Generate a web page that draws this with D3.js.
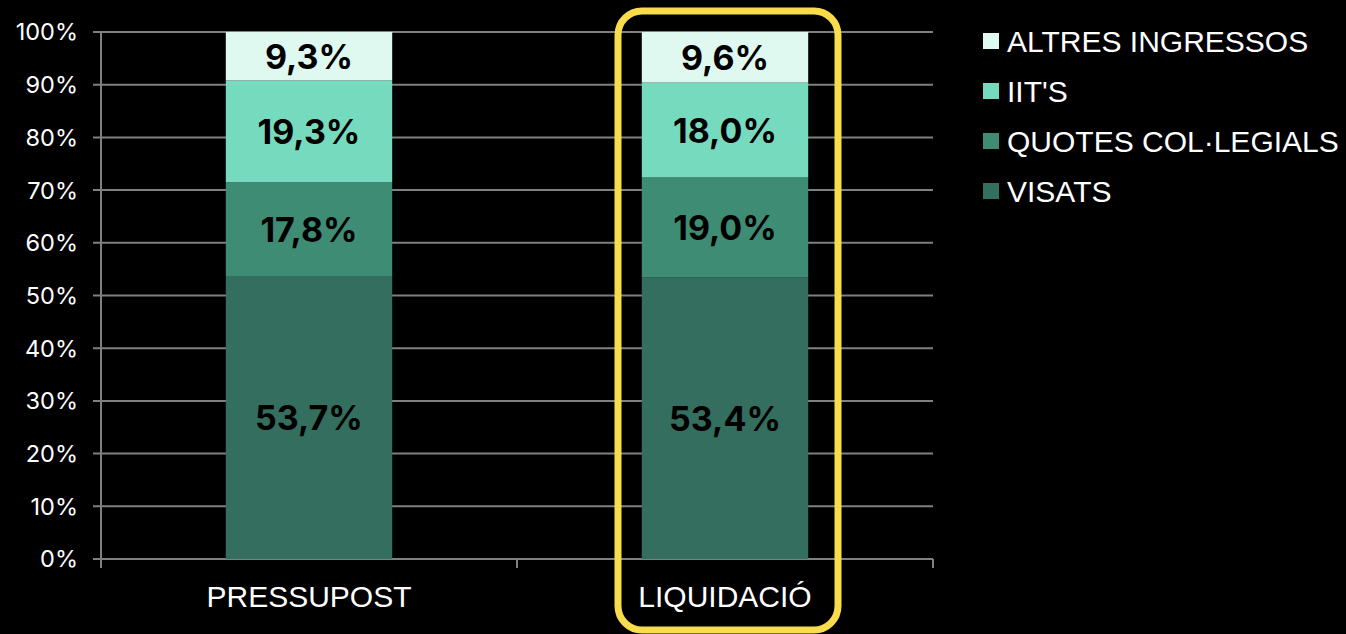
<!DOCTYPE html>
<html><head><meta charset="utf-8">
<script src="https://cdn.jsdelivr.net/npm/d3@7"></script>
<style>html,body{margin:0;padding:0;background:#000;overflow:hidden}</style>
</head><body>
<svg id="c" width="1346" height="634"></svg>
<script>
const categories = ["PRESSUPOST", "LIQUIDACIÓ"];
const seriesNames = ["VISATS", "QUOTES COL·LEGIALS", "IIT'S", "ALTRES INGRESSOS"];
const visats = [53.7, 53.4];
const quotes = [17.8, 19.0];
const iits = [19.3, 18.0];
const altres = [9.3, 9.6];
const yTicks = [0,10,20,30,40,50,60,70,80,90,100];
const colors = ["#336e5e", "#3f8c74", "#76dbbe", "#dff8f0"];
const seriesValues = [visats, quotes, iits, altres];

const svg = d3.select("#c");
const margin = {left:101, right:413, top:32, bottom:75};
const W = 1346, H = 634;
const x = d3.scaleBand().domain(categories).range([margin.left, W - margin.right]).paddingInner(0.6).paddingOuter(0.3);
const y = d3.scaleLinear().domain([0,100]).range([H - margin.bottom, margin.top]);

// gridlines
svg.append("g").selectAll("line").data(yTicks).join("line")
  .attr("x1", 93).attr("x2", W - margin.right)
  .attr("y1", d => y(d)).attr("y2", d => y(d))
  .attr("stroke", "#808080").attr("stroke-width", 2);

// y axis line
svg.append("line").attr("x1", margin.left).attr("x2", margin.left)
  .attr("y1", y(100)).attr("y2", y(0) + 9).attr("stroke", "#808080").attr("stroke-width", 2);
// x axis ticks
const xEdges = [margin.left, margin.left + (W - margin.right - margin.left)/2, W - margin.right];
svg.append("g").selectAll("line").data(xEdges).join("line")
  .attr("x1", d => d).attr("x2", d => d).attr("y1", y(0)).attr("y2", y(0) + 9)
  .attr("stroke", "#808080").attr("stroke-width", 2);

// y tick labels
svg.append("g").selectAll("text").data(yTicks).join("text")
  .attr("x", 78).attr("y", d => y(d)).attr("dy", "0.36em")
  .attr("text-anchor", "end").attr("fill", "#fff")
  .style("font-family", "Inter, 'Noto Sans', sans-serif").style("font-size", "23.5px")
  .text(d => d + "%");

// stack
const rows = categories.map((c, i) => {
  const r = {cat: c};
  seriesNames.forEach((s, j) => r[s] = seriesValues[j][i]);
  return r;
});
const stack = d3.stack().keys(seriesNames)(rows);

const g = svg.append("g");
stack.forEach((layer, j) => {
  g.selectAll(null).data(layer).join("rect")
    .attr("x", d => x(d.data.cat)).attr("width", x.bandwidth())
    .attr("y", d => y(Math.min(d[1], 100))).attr("height", d => y(d[0]) - y(Math.min(d[1], 100)))
    .attr("fill", colors[j]);
});
stack.forEach((layer, j) => {
  g.selectAll(null).data(layer).join("text")
    .attr("x", d => x(d.data.cat) + x.bandwidth()/2)
    .attr("y", d => (y(d[0]) + y(Math.min(d[1], 100)))/2).attr("dy", "0.38em")
    .attr("text-anchor", "middle").attr("fill", "#000")
    .style("font-family", "Inter, 'Noto Sans', sans-serif").style("font-weight", "700").style("font-size", "34px")
    .text(d => d3.format(".1f")(d[1] - d[0]).replace(".", ",") + "%");
});

// category labels
svg.append("g").selectAll("text").data(categories).join("text")
  .attr("x", d => x(d) + x.bandwidth()/2).attr("y", 607)
  .attr("text-anchor", "middle").attr("fill", "#fff")
  .style("font-family", "'Liberation Sans', Arial, sans-serif").style("font-size", "30px")
  .text(d => d);

// highlight box
const cx = x("LIQUIDACIÓ") + x.bandwidth()/2;
svg.append("rect").attr("x", cx - 107).attr("y", 11).attr("width", 220).attr("height", 619)
  .attr("rx", 24).attr("ry", 24).attr("fill", "none").attr("stroke", "#f8dc4c").attr("stroke-width", 7);

// legend
const legendOrder = ["ALTRES INGRESSOS", "IIT'S", "QUOTES COL·LEGIALS", "VISATS"];
const lg = svg.append("g").selectAll("g").data(legendOrder).join("g")
  .attr("transform", (d, i) => `translate(983, ${41 + i*50})`);
lg.append("rect").attr("x", 0).attr("y", -8).attr("width", 16).attr("height", 16)
  .attr("fill", d => colors[seriesNames.indexOf(d)]);
lg.append("text").attr("x", 24).attr("y", 0).attr("dy", "0.36em").attr("fill", "#fff")
  .style("font-family", "'Liberation Sans', Arial, sans-serif").style("font-size", "30px")
  .text(d => d);
</script>
</body></html>
